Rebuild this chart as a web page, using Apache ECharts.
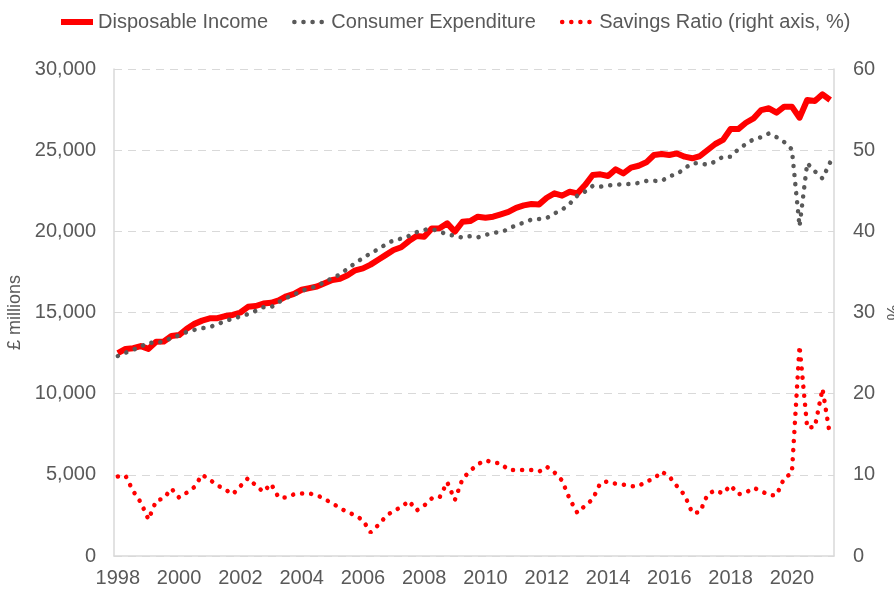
<!DOCTYPE html>
<html>
<head>
<meta charset="utf-8">
<script src="https://cdn.jsdelivr.net/npm/echarts@6/dist/echarts.min.js"></script>
<style>
  html, body { margin: 0; padding: 0; background: #fff; }
  #chart { width: 894px; height: 592px; }
</style>
</head>
<body>
<div id="chart"></div>
<script>
// quarterly, 1998 Q1 - 2021 Q2
var quarters = []
for (var y = 1998; y <= 2021; y++) {
  for (var q = 1; q <= 4; q++) {
    if (quarters.length < 94) quarters.push(y + ' Q' + q)
  }
}

var disposableIncome = [
  12500, 12750, 12800, 12930, 12760, 13200, 13210, 13550, 13610, 14000,
  14300, 14500, 14640, 14650, 14780, 14850, 15000, 15350, 15400, 15550,
  15600, 15750, 16000, 16150, 16400, 16500, 16600, 16800, 17000, 17080,
  17300, 17600, 17720, 17950, 18250, 18550, 18850, 19020, 19400, 19710,
  19670, 20180, 20190, 20490, 19980, 20590, 20630, 20900, 20840, 20900,
  21050, 21200, 21450, 21600, 21680, 21660, 22070, 22340, 22200, 22440,
  22340, 22850, 23470, 23510, 23410, 23820, 23570, 23920, 24040, 24250,
  24700, 24760, 24700, 24800, 24600, 24500, 24640, 25010, 25380, 25630,
  26300, 26300, 26690, 26960, 27470, 27580, 27310, 27680, 27680, 27000,
  28090, 28030, 28440, 28090
]

var consumerExpenditure = [
  12320, 12520, 12700, 12900, 13150, 13100, 13250, 13420, 13600, 13800,
  13930, 14030, 14100, 14280, 14470, 14620, 14750, 14900, 15100, 15320,
  15320, 15640, 15900, 16100, 16330, 16500, 16600, 16920, 17100, 17350,
  17700, 18050, 18350, 18650, 18900, 19200, 19450, 19550, 19720, 19950,
  20100, 20130, 20000, 19800, 19730, 19610, 19700, 19630, 19780, 19900,
  19960, 20130, 20400, 20530, 20720, 20760, 20820, 21100, 21330, 21700,
  22200, 22450, 22800, 22750, 22820, 22870, 22900, 22920, 22980, 23100,
  23110, 23100, 23400, 23520, 23880, 24190, 24190, 24100, 24300, 24600,
  24600, 25050, 25380, 25670, 25800, 26030, 25800, 25500, 25050, 20300,
  24200, 23700, 23250, 24250
]

var savingsRatio = [
  9.8, 9.9, 8.0, 6.6, 4.5, 6.8, 7.1, 8.3, 7.2, 7.8,
  8.5, 10.0, 9.4, 8.7, 8.2, 7.6, 8.6, 9.6, 8.7, 7.9,
  8.9, 7.2, 7.2, 7.6, 7.7, 7.7, 7.5, 7.0, 6.5, 5.9,
  5.4, 5.0, 4.4, 2.9, 3.8, 4.9, 5.6, 6.0, 6.8, 5.6,
  6.2, 7.1, 7.2, 9.1, 6.9, 9.5, 10.5, 11.3, 11.8, 11.5,
  11.4, 10.6, 10.6, 10.6, 10.6, 10.4, 11.0, 10.3, 9.3, 7.0,
  5.3, 6.2, 7.0, 9.0, 9.2, 8.9, 8.8, 8.6, 8.6, 9.2,
  9.5, 10.4, 9.8, 8.6, 7.5, 5.3, 5.4, 7.6, 8.1, 7.7,
  8.7, 7.6, 7.8, 8.4, 8.0, 7.5, 7.5, 9.6, 10.2, 25.9,
  15.8, 15.9, 20.6, 14.7
]

var leftTicks = { min: 0, max: 30000, interval: 5000 }
var rightTicks = { min: 0, max: 60, interval: 10 }

var font = "'Liberation Sans', Arial, sans-serif"
var textColor = '#595959'
var gridColor = '#d9d9d9'
var dots = [0.1, 9]

var chart = echarts.init(document.getElementById('chart'))
var option = {
  animation: false,
  textStyle: { fontFamily: font },
  legend: {
    left: 53,
    top: 7,
    itemWidth: 32,
    itemHeight: 14,
    itemGap: 24,
    itemStyle: { opacity: 0 },
    textStyle: { color: textColor, fontSize: 20, fontFamily: font },
    data: [
      { name: 'Disposable Income', lineStyle: { width: 6, color: '#ff0000' } },
      { name: 'Consumer Expenditure', lineStyle: { width: 4.5, color: '#595959', type: dots, cap: 'round' } },
      { name: 'Savings Ratio (right axis, %)', lineStyle: { width: 4.5, color: '#ff0000', type: dots, cap: 'round' } }
    ]
  },
  grid: {
    left: 114,
    right: 60,
    top: 69,
    bottom: 36,
    containLabel: false,
    outerBoundsMode: 'none'
  },
  xAxis: {
    type: 'category',
    boundaryGap: true,
    data: quarters,
    axisLine: { lineStyle: { color: gridColor, width: 1.5 } },
    axisTick: { show: false },
    splitLine: { show: false },
    axisLabel: {
      interval: 7,
      margin: 12,
      color: textColor,
      fontSize: 20,
      fontFamily: font,
      formatter: function (v) {
        return v.split(' ')[0]
      }
    }
  },
  yAxis: [
    {
      type: 'value',
      min: leftTicks.min,
      max: leftTicks.max,
      interval: leftTicks.interval,
      name: '£ millions',
      nameLocation: 'middle',
      nameGap: 85,
      nameRotate: 90,
      nameTextStyle: { color: textColor, fontSize: 18, fontFamily: font },
      axisLine: { show: true, lineStyle: { color: gridColor, width: 1.5 } },
      axisTick: { show: false },
      axisLabel: { color: textColor, fontSize: 20, margin: 18, fontFamily: font },
      splitLine: { lineStyle: { type: [8, 6], color: gridColor, width: 1.2 } }
    },
    {
      type: 'value',
      min: rightTicks.min,
      max: rightTicks.max,
      interval: rightTicks.interval,
      name: '%',
      nameLocation: 'middle',
      nameGap: 50,
      nameRotate: 90,
      nameTextStyle: { color: textColor, fontSize: 18, fontFamily: font },
      axisLine: { show: true, lineStyle: { color: gridColor, width: 1.5 } },
      axisTick: { show: false },
      axisLabel: { color: textColor, fontSize: 20, margin: 19, fontFamily: font },
      splitLine: { show: false }
    }
  ],
  series: [
    {
      name: 'Disposable Income',
      type: 'line',
      yAxisIndex: 0,
      symbol: 'none',
      smooth: false,
      color: '#ff0000',
      lineStyle: { color: '#ff0000', width: 6, join: 'round' },
      data: disposableIncome,
      z: 3
    },
    {
      name: 'Consumer Expenditure',
      type: 'line',
      yAxisIndex: 0,
      symbol: 'none',
      color: '#595959',
      lineStyle: { color: '#595959', width: 4.5, type: dots, cap: 'round' },
      data: consumerExpenditure,
      z: 4
    },
    {
      name: 'Savings Ratio (right axis, %)',
      type: 'line',
      yAxisIndex: 1,
      symbol: 'none',
      color: '#ff0000',
      lineStyle: { color: '#ff0000', width: 4.5, type: dots, cap: 'round' },
      data: savingsRatio,
      z: 2
    }
  ]
}
chart.setOption(option)
</script>
</body>
</html>
